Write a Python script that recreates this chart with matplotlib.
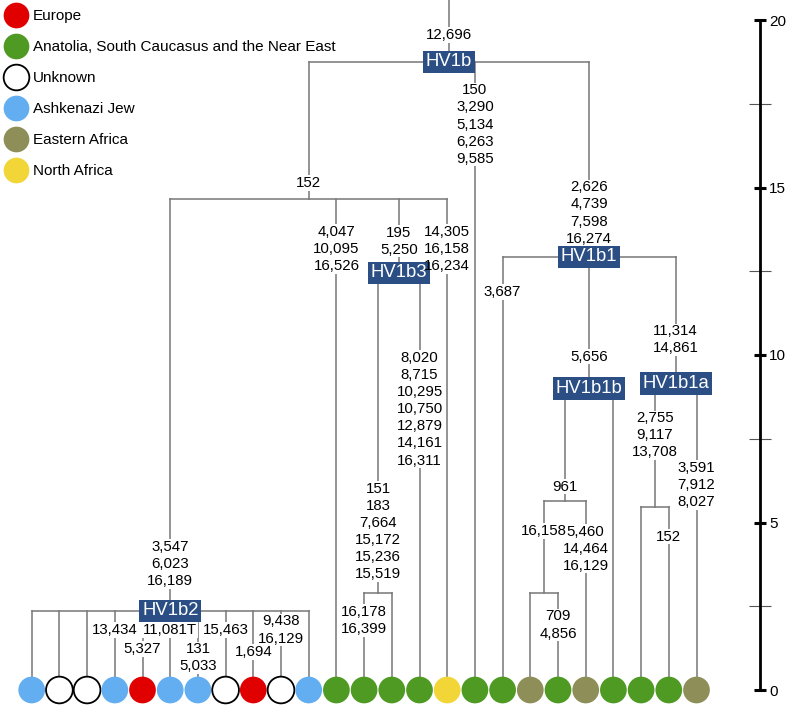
import matplotlib
matplotlib.use("Agg")
import matplotlib.pyplot as plt
from matplotlib.lines import Line2D
from matplotlib.ticker import MultipleLocator

plt.rcParams["font.family"] = ["Liberation Sans", "DejaVu Sans"]

# ---- data -------------------------------------------------------------
regions = [
    "Europe",
    "Anatolia, South Caucasus and the Near East",
    "Unknown",
    "Ashkenazi Jew",
    "Eastern Africa",
    "North Africa",
]
region_colors = ["#e00000", "#4e9a23", "#ffffff", "#62aef0", "#8e8e58", "#f2d536"]

# region of each sampled mitogenome, left to right
leaf_regions = [
    "Ashkenazi Jew", "Unknown", "Unknown", "Ashkenazi Jew", "Europe",
    "Ashkenazi Jew", "Ashkenazi Jew", "Unknown", "Europe", "Unknown",
    "Ashkenazi Jew",
    "Anatolia, South Caucasus and the Near East",
    "Anatolia, South Caucasus and the Near East",
    "Anatolia, South Caucasus and the Near East",
    "Anatolia, South Caucasus and the Near East",
    "North Africa",
    "Anatolia, South Caucasus and the Near East",
    "Anatolia, South Caucasus and the Near East",
    "Eastern Africa",
    "Anatolia, South Caucasus and the Near East",
    "Eastern Africa",
    "Anatolia, South Caucasus and the Near East",
    "Anatolia, South Caucasus and the Near East",
    "Anatolia, South Caucasus and the Near East",
    "Eastern Africa",
]

# internal nodes: age (time scale units) and children (int = leaf index)
node_age = {
    "HV1b": 18.75, "n152": 14.66, "HV1b2": 2.36, "HV1b3": 12.45,
    "n151": 2.9, "HV1b1": 12.93, "HV1b1b": 9.0, "n961": 5.64,
    "n16158": 2.9, "HV1b1a": 9.15, "n2755": 5.46,
}
node_children = {
    "HV1b": ["n152", 16, "HV1b1"],
    "n152": ["HV1b2", 11, "HV1b3", 15],
    "HV1b2": [0, 1, 2, 3, 4, 5, 6, 7, 8, 9, 10],
    "HV1b3": ["n151", 14],
    "n151": [12, 13],
    "HV1b1": [17, "HV1b1b", "HV1b1a"],
    "HV1b1b": ["n961", 21],
    "n961": ["n16158", 20],
    "n16158": [18, 19],
    "HV1b1a": ["n2755", 24],
    "n2755": [22, 23],
}
clades = ["HV1b", "HV1b1", "HV1b1a", "HV1b1b", "HV1b2", "HV1b3"]

# mutations on the branch leading to each node / leaf
mutations = {
    "HV1b": "12,696",
    "n152": "152",
    "HV1b2": "3,547\n6,023\n16,189",
    "HV1b3": "195\n5,250",
    "n151": "151\n183\n7,664\n15,172\n15,236\n15,519",
    "HV1b1": "2,626\n4,739\n7,598\n16,274",
    "HV1b1b": "5,656",
    "n961": "961",
    "n16158": "16,158",
    "HV1b1a": "11,314\n14,861",
    "n2755": "2,755\n9,117\n13,708",
    16: "150\n3,290\n5,134\n6,263\n9,585",
    11: "4,047\n10,095\n16,526",
    15: "14,305\n16,158\n16,234",
    14: "8,020\n8,715\n10,295\n10,750\n12,879\n14,161\n16,311",
    12: "16,178\n16,399",
    17: "3,687",
    20: "5,460\n14,464\n16,129",
    19: "709\n4,856",
    23: "152",
    24: "3,591\n7,912\n8,027",
    3: "13,434",
    4: "5,327",
    5: "11,081T",
    6: "131\n5,033",
    7: "15,463",
    8: "1,694",
    9: "9,438\n16,129",
}

# layout: height (time units) of the centre of each mutation label
label_age = {
    "HV1b": 19.55, "n152": 15.13, "HV1b2": 3.76, "HV1b3": 13.4,
    "n151": 4.73, "HV1b1": 14.24, "HV1b1b": 9.95, "n961": 6.07,
    "n16158": 4.75, "HV1b1a": 10.45, "n2755": 7.6,
    16: 16.88, 11: 13.16, 15: 13.16, 14: 8.38, 12: 2.07, 17: 11.88,
    20: 4.22, 19: 1.94, 23: 4.58, 24: 6.12,
    3: 1.79, 4: 1.22, 5: 1.79, 6: 0.96, 7: 1.79, 8: 1.14, 9: 1.79,
}

scale_ticks = [0, 5, 10, 15, 20]

# ---- helpers ----------------------------------------------------------
LINE = "#777777"
BOX = "#2b4f85"


def xpos(n):
    if isinstance(n, int):
        return float(n)
    xs = [xpos(c) for c in node_children[n]]
    return (min(xs) + max(xs)) / 2.0


def age(n):
    return 0.0 if isinstance(n, int) else node_age[n]


W, H = 788, 706
fig = plt.figure(figsize=(W / 100, H / 100), dpi=100)
ax = fig.add_axes([0, 0, 1, 1])
step = 27.7
ax.set_xlim(-31.7 / step, (W - 31.7) / step)
ylim = (-16 / 33.5, (H - 16) / 33.5)
ax.set_ylim(*ylim)
ax.axis("off")

# root stem
ax.plot([xpos("HV1b")] * 2, [age("HV1b"), ylim[1]], color=LINE, lw=1.1, zorder=1)

for n, kids in node_children.items():
    xs = [xpos(c) for c in kids]
    ax.plot([min(xs), max(xs)], [age(n)] * 2, color=LINE, lw=1.1, zorder=1)
    for c in kids:
        ax.plot([xpos(c)] * 2, [age(n), age(c)], color=LINE, lw=1.1, zorder=1)

# white gaps in the branches first, then the mutation text on top
label_kw = dict(ha="center", va="center", fontsize=10.8, linespacing=1.28)
for key, txt in mutations.items():
    ax.text(xpos(key), label_age[key], txt, color="none", zorder=2,
            bbox=dict(boxstyle="square,pad=0.05", fc="white", ec="none"),
            **label_kw)
for key, txt in mutations.items():
    ax.text(xpos(key), label_age[key], txt, color="black", zorder=4, **label_kw)

for c in clades:
    ax.text(xpos(c), age(c), c, ha="center", va="center", color="white",
            fontsize=13.3, zorder=3,
            bbox=dict(boxstyle="square,pad=0.15", fc=BOX, ec="none"))

# leaves
color_of = dict(zip(regions, region_colors))
leaf_x = list(range(len(leaf_regions)))
ax.scatter(leaf_x, [0] * len(leaf_x), s=370,
           c=[color_of[r] for r in leaf_regions],
           edgecolors=["black" if r == "Unknown" else "none" for r in leaf_regions],
           linewidths=1.3, zorder=5)

handles = [Line2D([], [], ls="none", marker="o", markersize=18.5,
                  markerfacecolor=col,
                  markeredgecolor="black" if reg == "Unknown" else col,
                  markeredgewidth=1.3 if reg == "Unknown" else 0)
           for reg, col in zip(regions, region_colors)]
ax.legend(handles, regions, loc="upper left", bbox_to_anchor=(0.005, 0.991),
          frameon=False, fontsize=11, handlelength=1.2, handletextpad=0.48,
          labelspacing=1.11, borderaxespad=0, borderpad=0.2)

# time scale
sx = 760 / W
ax2 = fig.add_axes([sx - 0.01, 0, 0.01, 1])
ax2.set_ylim(*ylim)
ax2.patch.set_visible(False)
for s in ["left", "top", "bottom"]:
    ax2.spines[s].set_visible(False)
ax2.spines["right"].set_linewidth(2.0)
ax2.spines["right"].set_bounds(scale_ticks[0], scale_ticks[-1])
ax2.set_xticks([])
ax2.yaxis.tick_right()
ax2.set_yticks(scale_ticks)
ax2.yaxis.set_minor_locator(MultipleLocator(2.5))
ax2.tick_params(axis="y", which="major", direction="inout", length=9, width=2.2,
                labelsize=11, pad=2)
ax2.tick_params(axis="y", which="minor", direction="inout", length=16, width=0.8,
                color="#555555")

fig.savefig("out.png", dpi=100)
